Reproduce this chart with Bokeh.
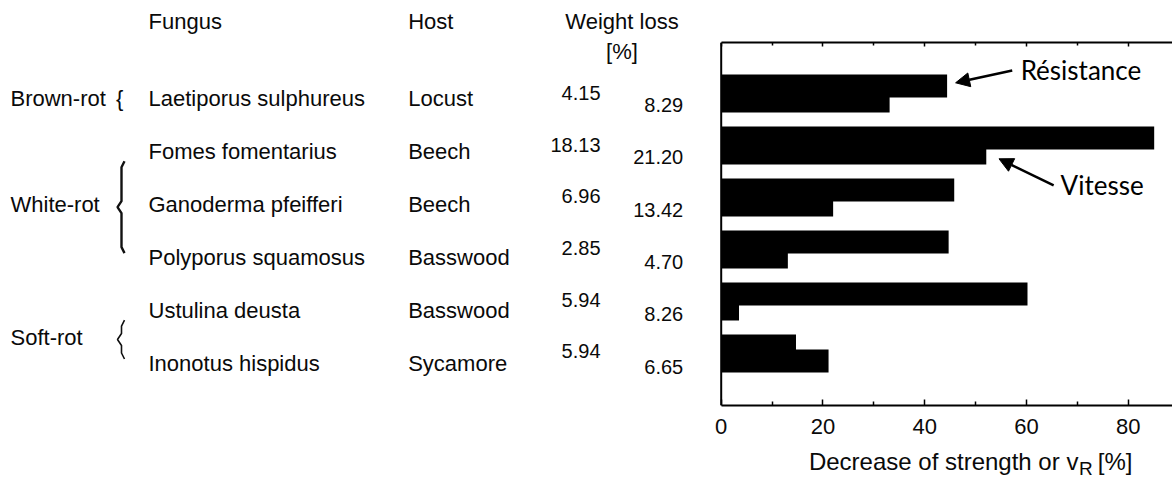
from bokeh.plotting import figure
from bokeh.models import (Range1d, LinearAxis, FixedTicker, Span, Label, Arrow, NormalHead,
                          CustomJSTickFormatter, ColumnDataSource)
from bokeh.layouts import column
from bokeh.core.properties import value
from bokeh.embed import file_html
from bokeh.resources import INLINE

# ---------------- data ----------------
fungi = ["Laetiporus sulphureus", "Fomes fomentarius", "Ganoderma pfeifferi",
         "Polyporus squamosus", "Ustulina deusta", "Inonotus hispidus"]
hosts = ["Locust", "Beech", "Beech", "Basswood", "Basswood", "Sycamore"]
weight_loss_a = [4.15, 18.13, 6.96, 2.85, 5.94, 5.94]
weight_loss_b = [8.29, 21.20, 13.42, 4.70, 8.26, 6.65]
groups = ["Brown-rot", "White-rot", "Soft-rot"]
group_first = [0, 1, 4]
group_last = [0, 3, 5]
resistance = [44.4, 85.1, 45.8, 44.7, 60.2, 14.7]
vitesse = [33.1, 52.1, 22.0, 13.1, 3.5, 21.1]
x_ticks = [0, 20, 40, 60, 80]
x_minor_ticks = [10, 30, 50, 70]
headers = ["Fungus", "Host", "Weight loss", "[%]"]
x_title = ["Decrease of strength or v", "R", "[%]"]
series_names = ["Résistance", "Vitesse"]

# ---------------- layout constants ----------------
W = 1172
HEAD_H, MAIN_H, FOOT_H = 34, 411, 33
FRAME_TOP, FRAME_BOT = 42, 405          # page pixels of the chart frame
X0_PX, PX_PER_UNIT = 720.7, 5.088       # where value 0 sits, scale
ROW0_PX, ROW_PX = 85.5, 52.0            # first bar centre, row pitch
x_start = -X0_PX / PX_PER_UNIT
x_end = (W - X0_PX) / PX_PER_UNIT
y_top = (FRAME_TOP - ROW0_PX) / ROW_PX
y_bot = (FRAME_BOT - ROW0_PX) / ROW_PX

FONT_NAME = "Liberation Sans"
FONT = value(FONT_NAME)
TXT = "#0a0a0a"
n = len(fungi)
rows = list(range(n))
common = dict(text_font=FONT, text_color=TXT, text_baseline="middle")

def bare(fig):
    fig.xgrid.grid_line_color = None
    fig.ygrid.grid_line_color = None
    return fig

x_shared = Range1d(x_start, x_end)

# ---------------- header strip ----------------
head = bare(figure(width=W, height=HEAD_H, x_range=Range1d(0, W), y_range=Range1d(HEAD_H, 0),
                   x_axis_location=None, y_axis_location=None, toolbar_location=None,
                   output_backend="svg", min_border=0, outline_line_color=None, title=None))
head.text(x=[148, 407.7], y=[21.3, 21.3], text=headers[:2], text_font_size="22px",
          text_align="left", **common)
head.text(x=[621.5], y=[21.3], text=[headers[2]], text_font_size="22px",
          text_align="center", **common)

# ---------------- main chart (table + bars) ----------------
main = bare(figure(width=W, height=MAIN_H, x_range=x_shared, y_range=Range1d(y_bot, y_top),
                   x_axis_location=None, y_axis_location=None, toolbar_location=None,
                   output_backend="svg", min_border_left=0, min_border_right=0,
                   min_border_top=FRAME_TOP - HEAD_H, min_border_bottom=HEAD_H + MAIN_H - FRAME_BOT,
                   outline_line_color=None, title=None))
main.extra_x_ranges = {"px": Range1d(0, W)}
main.extra_y_ranges = {"px": Range1d(FRAME_BOT, FRAME_TOP)}
PX = dict(x_range_name="px", y_range_name="px")

name_y = [98.3 + 52.94 * i for i in rows]
wla_y = [92.7 + 51.6 * i for i in rows]
wlb_y = [104.5 + 52.32 * i for i in rows]
src = ColumnDataSource(dict(
    fungus=fungi, host=hosts,
    wla=[f"{v:.2f}" for v in weight_loss_a], wlb=[f"{v:.2f}" for v in weight_loss_b],
    name_y=name_y, wla_y=wla_y, wlb_y=wlb_y))

main.text(x=148, y="name_y", text="fungus", source=src, text_font_size="22px", text_align="left", **common, **PX)
main.text(x=407.7, y="name_y", text="host", source=src, text_font_size="22px", text_align="left", **common, **PX)
main.text(x=600, y="wla_y", text="wla", source=src, text_font_size="20px", text_align="right", **common, **PX)
main.text(x=682.7, y="wlb_y", text="wlb", source=src, text_font_size="20px", text_align="right", **common, **PX)
main.text(x=[621.5], y=[50.5], text=[headers[3]], text_font_size="22px", text_align="center", **common, **PX)

g_y = [(name_y[f] + name_y[l]) / 2 for f, l in zip(group_first, group_last)]
main.text(x=10, y=g_y, text=groups, text_font_size="22px", text_align="left", **common, **PX)
for f, l, gy in zip(group_first, group_last, g_y):
    if f == l:
        main.text(x=[115.5], y=[gy], text=["{"], text_font_size="22px", text_align="left", **common, **PX)
    else:
        top = name_y[f] + 9.5
        bot = name_y[l] - 4.5
        mid = (top + bot) / 2
        xs = [124, 121, 121, 117, 121, 121, 124]
        ys = [top, top + 6, mid - 6, mid, mid + 6, bot - 6, bot]
        main.line(xs, ys, line_color="#111111", line_width=2.4 if (l - f) > 1 else 1.6, **PX)

# bars: two overlapping bars per fungus
main.hbar(y=[r + 0.288 for r in rows], left=0, right=vitesse, height=0.442,
          fill_color="black", line_color=None)
main.hbar(y=rows, left=0, right=resistance, height=0.442,
          fill_color="black", line_color=None)

bottom = LinearAxis(ticker=FixedTicker(ticks=x_ticks, minor_ticks=x_minor_ticks), bounds=(0, x_end),
                    major_tick_in=6, major_tick_out=0, minor_tick_in=4, minor_tick_out=0,
                    axis_line_width=2, major_tick_line_width=1.5, minor_tick_line_width=1.5,
                    major_label_text_font=FONT_NAME, major_label_text_font_size="22px",
                    major_label_text_color=TXT, major_label_standoff=13)
main.add_layout(bottom, "below")

top_axis = LinearAxis(ticker=FixedTicker(ticks=x_ticks, minor_ticks=x_minor_ticks), bounds=(0, x_end),
                      formatter=CustomJSTickFormatter(code="return ''"),
                      major_tick_in=4, major_tick_out=0, minor_tick_in=3, minor_tick_out=0,
                      axis_line_width=2, major_tick_line_width=1.5, minor_tick_line_width=1.5,
                      major_label_standoff=0)
main.add_layout(top_axis, "above")

main.add_layout(Span(location=0, dimension="height", line_color="black", line_width=2))

# series annotations
main.add_layout(Label(x=58.85, y=-0.313, text=series_names[0], text_align="left", text_baseline="middle",
                      text_font="Lato", text_font_size="26px", text_color="black"))
main.add_layout(Label(x=66.7, y=1.913, text=series_names[1], text_align="left", text_baseline="middle",
                      text_font="Lato", text_font_size="26px", text_color="black"))
main.add_layout(Arrow(end=NormalHead(size=14, fill_color="black", line_color="black"),
                      x_start=57.2, y_start=-0.298, x_end=resistance[0] + 1.67, y_end=-0.0615,
                      line_width=2.5, line_color="black"))
main.add_layout(Arrow(end=NormalHead(size=14, fill_color="black", line_color="black"),
                      x_start=65.34, y_start=1.913, x_end=vitesse[1] + 2.5, y_end=1.4,
                      line_width=2.5, line_color="black"))

# ---------------- footer: x-axis title with subscript ----------------
FOOT_TOP = HEAD_H + MAIN_H
foot = bare(figure(width=W, height=FOOT_H, x_range=x_shared, y_range=Range1d(FOOT_TOP + FOOT_H, FOOT_TOP),
                   x_axis_location=None, y_axis_location=None, toolbar_location=None,
                   output_backend="svg", min_border=0, outline_line_color=None, title=None))
foot.text(x=[70.2], y=[460.8], text=[x_title[0]], text_font_size="24px", text_align="right", **common)
foot.text(x=[70.3], y=[467.5], text=[x_title[1]], text_font_size="19px", text_align="left", **common)
foot.text(x=[74.0], y=[460.8], text=[x_title[2]], text_font_size="24px", text_align="left", **common)

layout = column(head, main, foot)
open("out.html", "w").write(file_html(layout, INLINE))
